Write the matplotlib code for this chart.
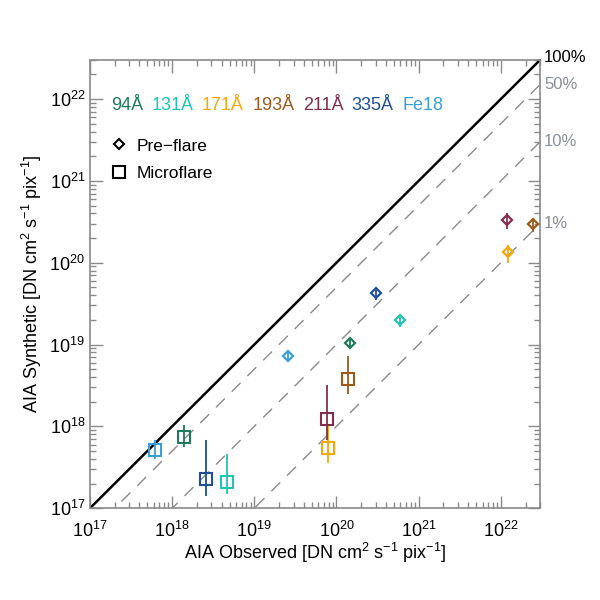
import matplotlib
matplotlib.use("Agg")
import matplotlib.pyplot as plt
import numpy as np
from matplotlib.lines import Line2D
from matplotlib.offsetbox import TextArea, HPacker, AnchoredOffsetbox

plt.rcParams['font.family'] = ['Liberation Sans', 'DejaVu Sans']
plt.rcParams['mathtext.fontset'] = 'custom'
plt.rcParams['mathtext.rm'] = 'Liberation Sans'
plt.rcParams['mathtext.it'] = 'Liberation Sans:italic'
plt.rcParams['mathtext.bf'] = 'Liberation Sans:bold'

# channels and their colours
channels = ['94Å', '131Å', '171Å', '193Å', '211Å', '335Å', 'Fe18']
colors = ['#1f7a5c', '#1fc4b4', '#f0a80a', '#9c5a1c', '#7e2f4f', '#1f4f99', '#3a9fd6']

# pre-flare values (observed, synthetic, synthetic lower, synthetic upper)
pre_obs = [1.48e20, 6.0e20, 1.23e22, 2.5e22, 1.2e22, 3.0e20, 2.6e19]
pre_syn = [1.03e19, 2.0e19, 1.35e20, 2.95e20, 3.3e20, 4.3e19, 7.2e18]
pre_lo = [9.2e18, 1.62e19, 1.0e20, 2.4e20, 2.57e20, 3.47e19, 6.5e18]
pre_hi = [1.15e19, 2.27e19, 1.66e20, 3.4e20, 4.0e20, 4.85e19, 8.0e18]

# microflare values
mf_obs = [1.4e18, 4.6e18, 7.8e19, 1.4e20, 7.6e19, 2.6e18, 6.2e17]
mf_syn = [7.4e17, 2.1e17, 5.5e17, 3.8e18, 1.23e18, 2.3e17, 5.1e17]
mf_lo = [5.6e17, 1.5e17, 3.55e17, 2.5e18, 6.8e17, 1.4e17, 4.0e17]
mf_hi = [1.03e18, 4.6e17, 1.03e18, 7.2e18, 3.2e18, 6.9e17, 6.9e17]

fractions = [1.0, 0.5, 0.1, 0.01]
frac_labels = ['100%', '50%', '10%', '1%']

lo_lim, hi_lim = 1e17, 3e22
gray = '#8a8a8a'
label_gray = '#8a8f9c'

fig = plt.figure(figsize=(6, 6), dpi=100)
ax = fig.add_axes([0.15, 0.153, 0.75, 0.747])
ax.set_xscale('log')
ax.set_yscale('log')
ax.set_xlim(lo_lim, hi_lim)
ax.set_ylim(lo_lim, hi_lim)

# ratio lines
xx = np.array([lo_lim, hi_lim])
for f, lab in zip(fractions, frac_labels):
    if f == 1.0:
        ax.plot(xx, xx * f, color='black', lw=1.8, zorder=2)
        col = 'black'
    else:
        ax.plot(xx, xx * f, color=gray, lw=1.0, dashes=(9, 7), zorder=2)
        col = label_gray
    ax.annotate(lab, xy=(hi_lim, hi_lim * f), xytext=(3, 2 if f == 1.0 else 0),
                textcoords='offset points', va='center', ha='left',
                color=col, fontsize=12, annotation_clip=False)

for i in range(len(channels)):
    c = colors[i]
    ax.errorbar(pre_obs[i], pre_syn[i],
                yerr=[[pre_syn[i] - pre_lo[i]], [pre_hi[i] - pre_syn[i]]],
                fmt='D', ms=5.5, mfc='none', mec=c, mew=1.6, ecolor=c,
                elinewidth=1.3, capsize=0, zorder=3)
    ax.errorbar(mf_obs[i], mf_syn[i],
                yerr=[[mf_syn[i] - mf_lo[i]], [mf_hi[i] - mf_syn[i]]],
                fmt='s', ms=9, mfc='none', mec=c, mew=1.5, ecolor=c,
                elinewidth=1.3, capsize=0, zorder=3)

# channel labels in colour
boxes = [TextArea(ch, textprops=dict(color=c, fontsize=13)) for ch, c in zip(channels, colors)]
pack = HPacker(children=boxes, align='baseline', pad=0, sep=6)
anch = AnchoredOffsetbox(loc='upper left', child=pack, frameon=False,
                         bbox_to_anchor=(0.035, 0.93), bbox_transform=ax.transAxes,
                         borderpad=0)
ax.add_artist(anch)

handles = [Line2D([], [], ls='none', marker='D', ms=5, mfc='none', mec='black', mew=1.5),
           Line2D([], [], ls='none', marker='s', ms=8, mfc='none', mec='black', mew=1.5)]
ax.legend(handles, ['Pre\u2212flare', 'Microflare'], loc='upper left',
          bbox_to_anchor=(0.0, 0.86), frameon=False, fontsize=12.5,
          handletextpad=0.3, labelspacing=0.7, handlelength=1.5)

for sp in ax.spines.values():
    sp.set_color(gray)
    sp.set_linewidth(1.2)
ax.tick_params(which='both', direction='in', top=True, right=True, colors=gray,
               labelcolor='black', labelsize=13)
ax.tick_params(which='major', length=9, width=1)
ax.tick_params(which='minor', length=4.5, width=1)
ax.tick_params(axis='x', which='major', pad=9)
ax.xaxis.set_minor_locator(matplotlib.ticker.LogLocator(base=10, subs=np.arange(2, 10), numticks=20))
ax.yaxis.set_minor_locator(matplotlib.ticker.LogLocator(base=10, subs=np.arange(2, 10), numticks=20))

ax.set_xlabel('AIA Observed [DN cm$^2$ s$^{-1}$ pix$^{-1}$]', fontsize=13, labelpad=0)
ax.set_ylabel('AIA Synthetic [DN cm$^2$ s$^{-1}$ pix$^{-1}$]', fontsize=13, labelpad=4)

fig.savefig('out.png', dpi=100)
